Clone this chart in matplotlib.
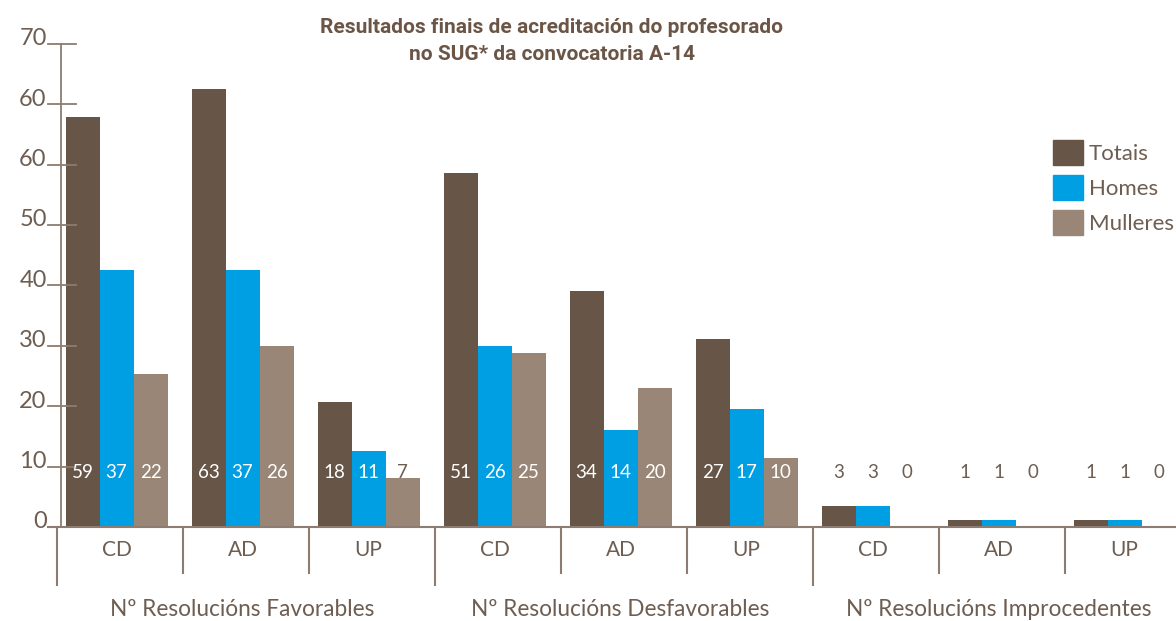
import numpy as np
import matplotlib.pyplot as plt
from matplotlib.patches import Patch

# Data
categories = ["CD", "AD", "UP", "CD", "AD", "UP", "CD", "AD", "UP"]
groups = ["Nº Resolucións Favorables", "Nº Resolucións Desfavorables",
          "Nº Resolucións Improcedentes"]
totais = [59, 63, 18, 51, 34, 27, 3, 1, 1]
homes = [37, 37, 11, 26, 14, 17, 3, 1, 1]
mulleres = [22, 26, 7, 25, 20, 10, 0, 0, 0]
series_names = ["Totais", "Homes", "Mulleres"]
ytick_labels = ["0", "10", "20", "30", "40", "50", "60", "60", "70"]

# Styles
C_TOT = "#675547"
C_HOM = "#009fe3"
C_MUL = "#998677"
C_TXT = "#6e5d51"
C_AX = "#8c7c71"
FONT = ["Lato", "DejaVu Sans"]
TITLE_FONT = ["Roboto", "DejaVu Sans"]

W, H = 1176, 621
fig = plt.figure(figsize=(W / 100, H / 100), dpi=100)
ax = fig.add_axes([0, 0, 1, 1])

# pixel-based scale so the layout lines up with the original
GX = 126.0      # px per category
X0 = 116.5      # px of first category centre
PY = 6.95       # px per unit
BASE = 527      # px of zero line (from top)
ax.set_xlim(-X0 / GX, (W - X0) / GX)
ax.set_ylim(-(H - BASE) / PY, BASE / PY)
ax.axis("off")

x = np.arange(len(categories))
bw = 34 / GX
cols = [C_TOT, C_HOM, C_MUL]
for k, vals in enumerate([totais, homes, mulleres]):
    xs = x + (k - 1) * bw
    ax.bar(xs, vals, width=bw, color=cols[k], label=series_names[k],
           linewidth=0)
    for xi, v in zip(xs, vals):
        c = "white" if v > 8 else C_TXT
        ax.text(xi, 7.8, str(v), ha="center", va="center", color=c,
                fontsize=13.5, family=FONT)

# y axis drawn by hand (labels as in the original)
yticks = np.linspace(0, 69.5, 9)
ax_x = (61 - X0) / GX
t0, t1 = (48 - X0) / GX, (76 - X0) / GX
ax.plot([ax_x, ax_x], [0, yticks[-1]], color=C_AX, lw=1.3, clip_on=False)
for v, lab in zip(yticks, ytick_labels):
    ax.plot([t0, t1], [v, v], color=C_AX, lw=1.3, clip_on=False)
    ax.text(t0 - 0.01, v - 0.2, lab, ha="right", va="baseline", color=C_TXT,
            fontsize=17, family=FONT)

# baseline
ax.plot([t0, (W - X0) / GX], [0, 0], color=C_AX, lw=1.5, clip_on=False)

# separators between categories
for i in range(len(categories)):
    sx = i - 0.475
    ybot = -(585 - BASE) / PY if i % 3 == 0 else -(573 - BASE) / PY
    ax.plot([sx, sx], [0, ybot], color=C_AX, lw=1.5, clip_on=False)
    ax.text(i, -(550 - BASE) / PY, categories[i], ha="center", va="center",
            color=C_TXT, fontsize=15, family=FONT)

for g, name in enumerate(groups):
    ax.text(3 * g + 1, -(609 - BASE) / PY, name, ha="center", va="center",
            color=C_TXT, fontsize=16.3, family=FONT)

# title
fig.text(552 / W, 1 - 41 / H,
         "Resultados finais de acreditación do profesorado\nno SUG* da convocatoria A-14",
         ha="center", va="center", color="#6b5546", fontsize=15,
         family=TITLE_FONT, fontweight="bold", linespacing=1.55)

# legend
leg = ax.legend(handles=[Patch(color=c) for c in cols], labels=series_names,
                loc="upper left", bbox_to_anchor=(1053 / W, 1 - 140 / H),
                bbox_transform=fig.transFigure, frameon=False, borderpad=0,
                borderaxespad=0, handlelength=1.35, handleheight=1.35,
                handletextpad=0.25, labelspacing=0.45,
                prop={"family": FONT, "size": 16})
for t in leg.get_texts():
    t.set_color(C_TXT)

fig.savefig("out.png", dpi=100)
